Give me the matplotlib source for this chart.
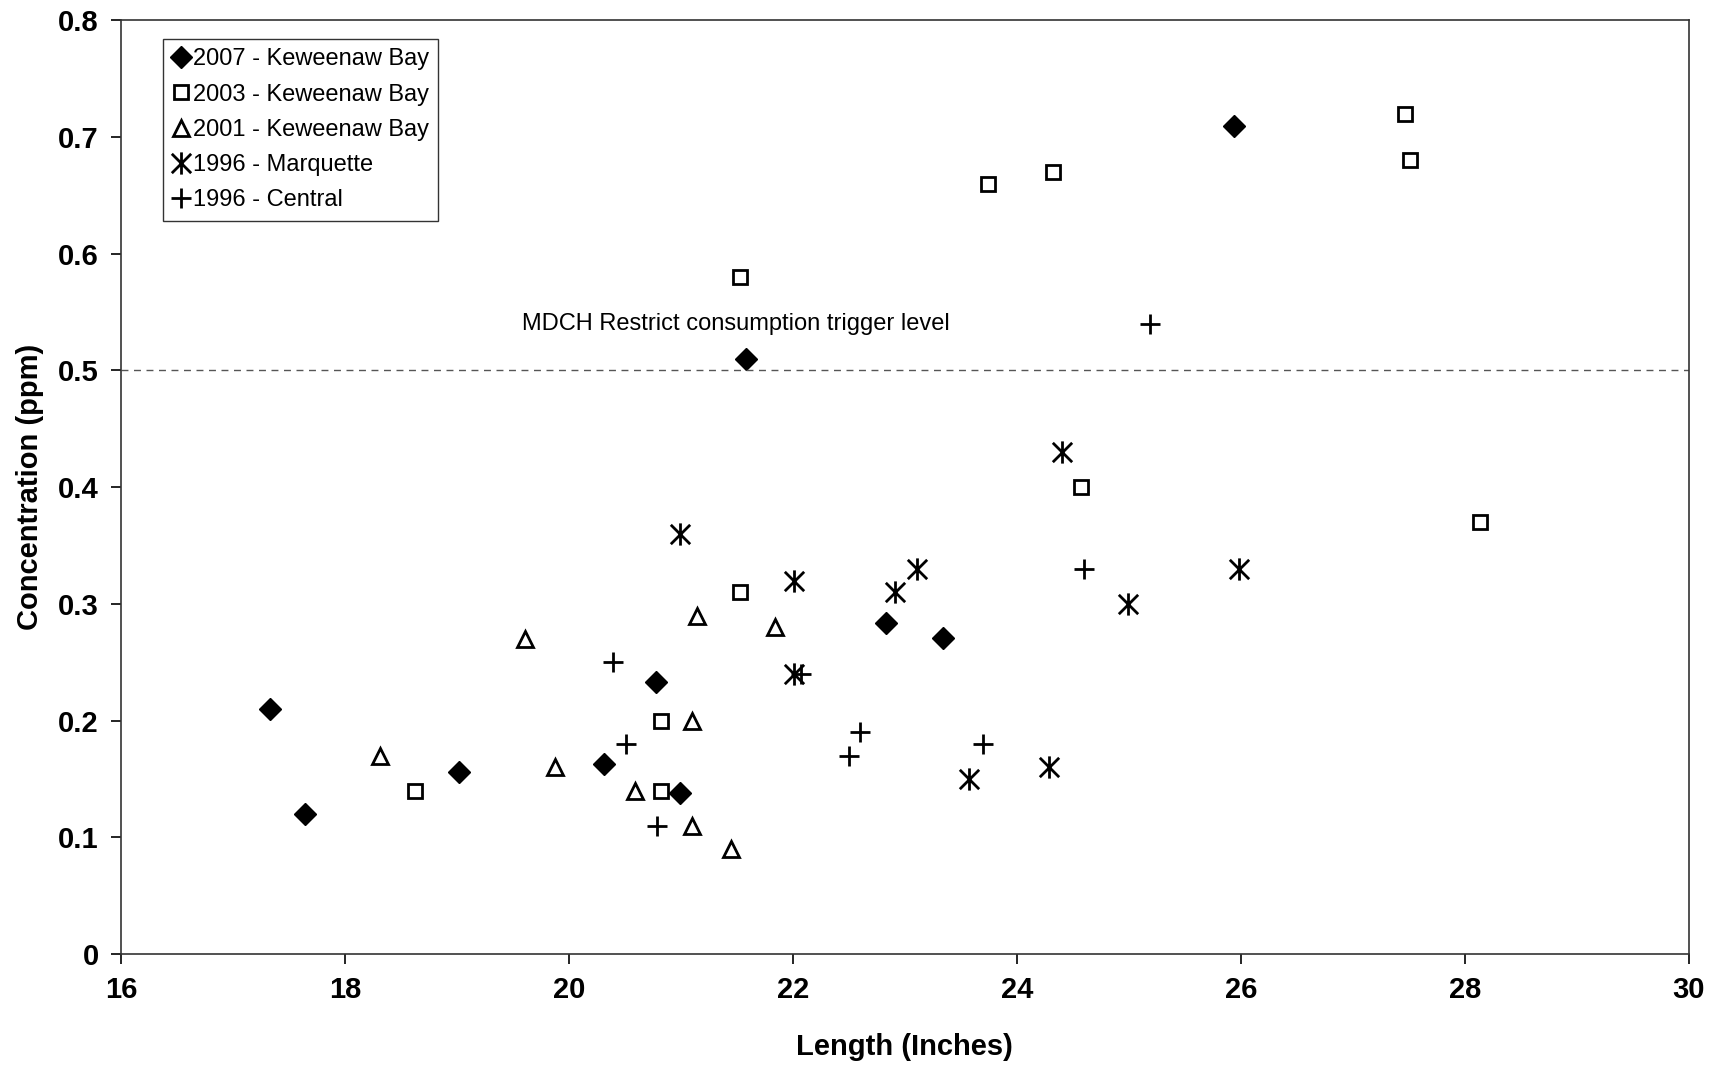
import matplotlib
matplotlib.use("Agg")
import matplotlib.pyplot as plt
from matplotlib.path import Path
from matplotlib.ticker import FuncFormatter

plt.rcParams['font.family'] = ['Liberation Sans', 'DejaVu Sans']

# 2007 - Keweenaw Bay
kb2007_len = [17.33, 17.64, 19.02, 20.31, 20.78, 20.99, 21.58, 22.83, 23.34, 25.94]
kb2007_conc = [0.21, 0.12, 0.156, 0.163, 0.233, 0.138, 0.51, 0.284, 0.271, 0.709]

# 2003 - Keweenaw Bay
kb2003_len = [18.63, 20.82, 20.82, 21.53, 21.53, 23.74, 24.32, 24.57, 27.47, 27.51, 28.14]
kb2003_conc = [0.14, 0.20, 0.14, 0.31, 0.58, 0.66, 0.67, 0.40, 0.72, 0.68, 0.37]

# 2001 - Keweenaw Bay
kb2001_len = [18.31, 19.61, 19.88, 20.59, 21.10, 21.14, 21.10, 21.45, 21.84]
kb2001_conc = [0.17, 0.27, 0.16, 0.14, 0.20, 0.29, 0.11, 0.09, 0.28]

# 1996 - Marquette
mq1996_len = [20.99, 22.01, 22.01, 22.91, 23.11, 23.57, 24.29, 24.40, 24.99, 25.98]
mq1996_conc = [0.36, 0.32, 0.24, 0.31, 0.33, 0.15, 0.16, 0.43, 0.30, 0.33]

# 1996 - Central
ct1996_len = [20.39, 20.51, 20.79, 22.07, 22.50, 22.60, 23.70, 24.60, 25.19]
ct1996_conc = [0.25, 0.18, 0.11, 0.24, 0.17, 0.19, 0.18, 0.33, 0.54]

trigger_level = 0.5

# asterisk marker: X with a vertical bar
star = Path([(-1, -1), (1, 1), (-1, 1), (1, -1), (0, -1.15), (0, 1.15)],
            [Path.MOVETO, Path.LINETO, Path.MOVETO, Path.LINETO, Path.MOVETO, Path.LINETO])

fig = plt.figure(figsize=(17.25, 10.66), dpi=100)
ax = fig.add_axes([0.0701, 0.105, 0.9089, 0.876])

ax.plot(kb2007_len, kb2007_conc, linestyle='none', marker='D', ms=11,
        color='black', label='2007 - Keweenaw Bay')
ax.plot(kb2003_len, kb2003_conc, linestyle='none', marker='s', ms=10.5, mew=2,
        mfc='white', mec='black', label='2003 - Keweenaw Bay')
ax.plot(kb2001_len, kb2001_conc, linestyle='none', marker='^', ms=11, mew=2,
        mfc='white', mec='black', label='2001 - Keweenaw Bay')
ax.plot(mq1996_len, mq1996_conc, linestyle='none', marker=star, ms=16, mew=2,
        color='black', label='1996 - Marquette')
ax.plot(ct1996_len, ct1996_conc, linestyle='none', marker='+', ms=15, mew=2,
        color='black', label='1996 - Central')

ax.axhline(trigger_level, color='#555555', linestyle=(0, (5, 4)), linewidth=1)
ax.text(19.58, 0.54, 'MDCH Restrict consumption trigger level', fontsize=17,
        va='center', ha='left')

ax.set_xlim(16, 30)
ax.set_ylim(0, 0.8)
ax.set_xticks(range(16, 31, 2))
ax.set_yticks([i / 10 for i in range(9)])
ax.yaxis.set_major_formatter(FuncFormatter(lambda v, p: '0' if v == 0 else f'{v:.1f}'))
ax.tick_params(direction='out', length=7, width=1.2, labelsize=21, pad=9)
for lbl in ax.get_xticklabels() + ax.get_yticklabels():
    lbl.set_fontweight('bold')
for s in ax.spines.values():
    s.set_linewidth(1.2)
    s.set_color('#333333')

ax.set_xlabel('Length (Inches)', fontsize=21, fontweight='bold', labelpad=21)
ax.set_ylabel('Concentration (ppm)', fontsize=21, fontweight='bold', labelpad=10)

leg = ax.legend(loc='upper left', bbox_to_anchor=(0.027, 0.98), fontsize=17,
                frameon=True, fancybox=False, handlelength=0.7, handletextpad=0.15,
                labelspacing=0.56, borderpad=0.4, borderaxespad=0)
leg.get_frame().set_edgecolor('black')
leg.get_frame().set_linewidth(1)

fig.savefig('out.png', dpi=100)
